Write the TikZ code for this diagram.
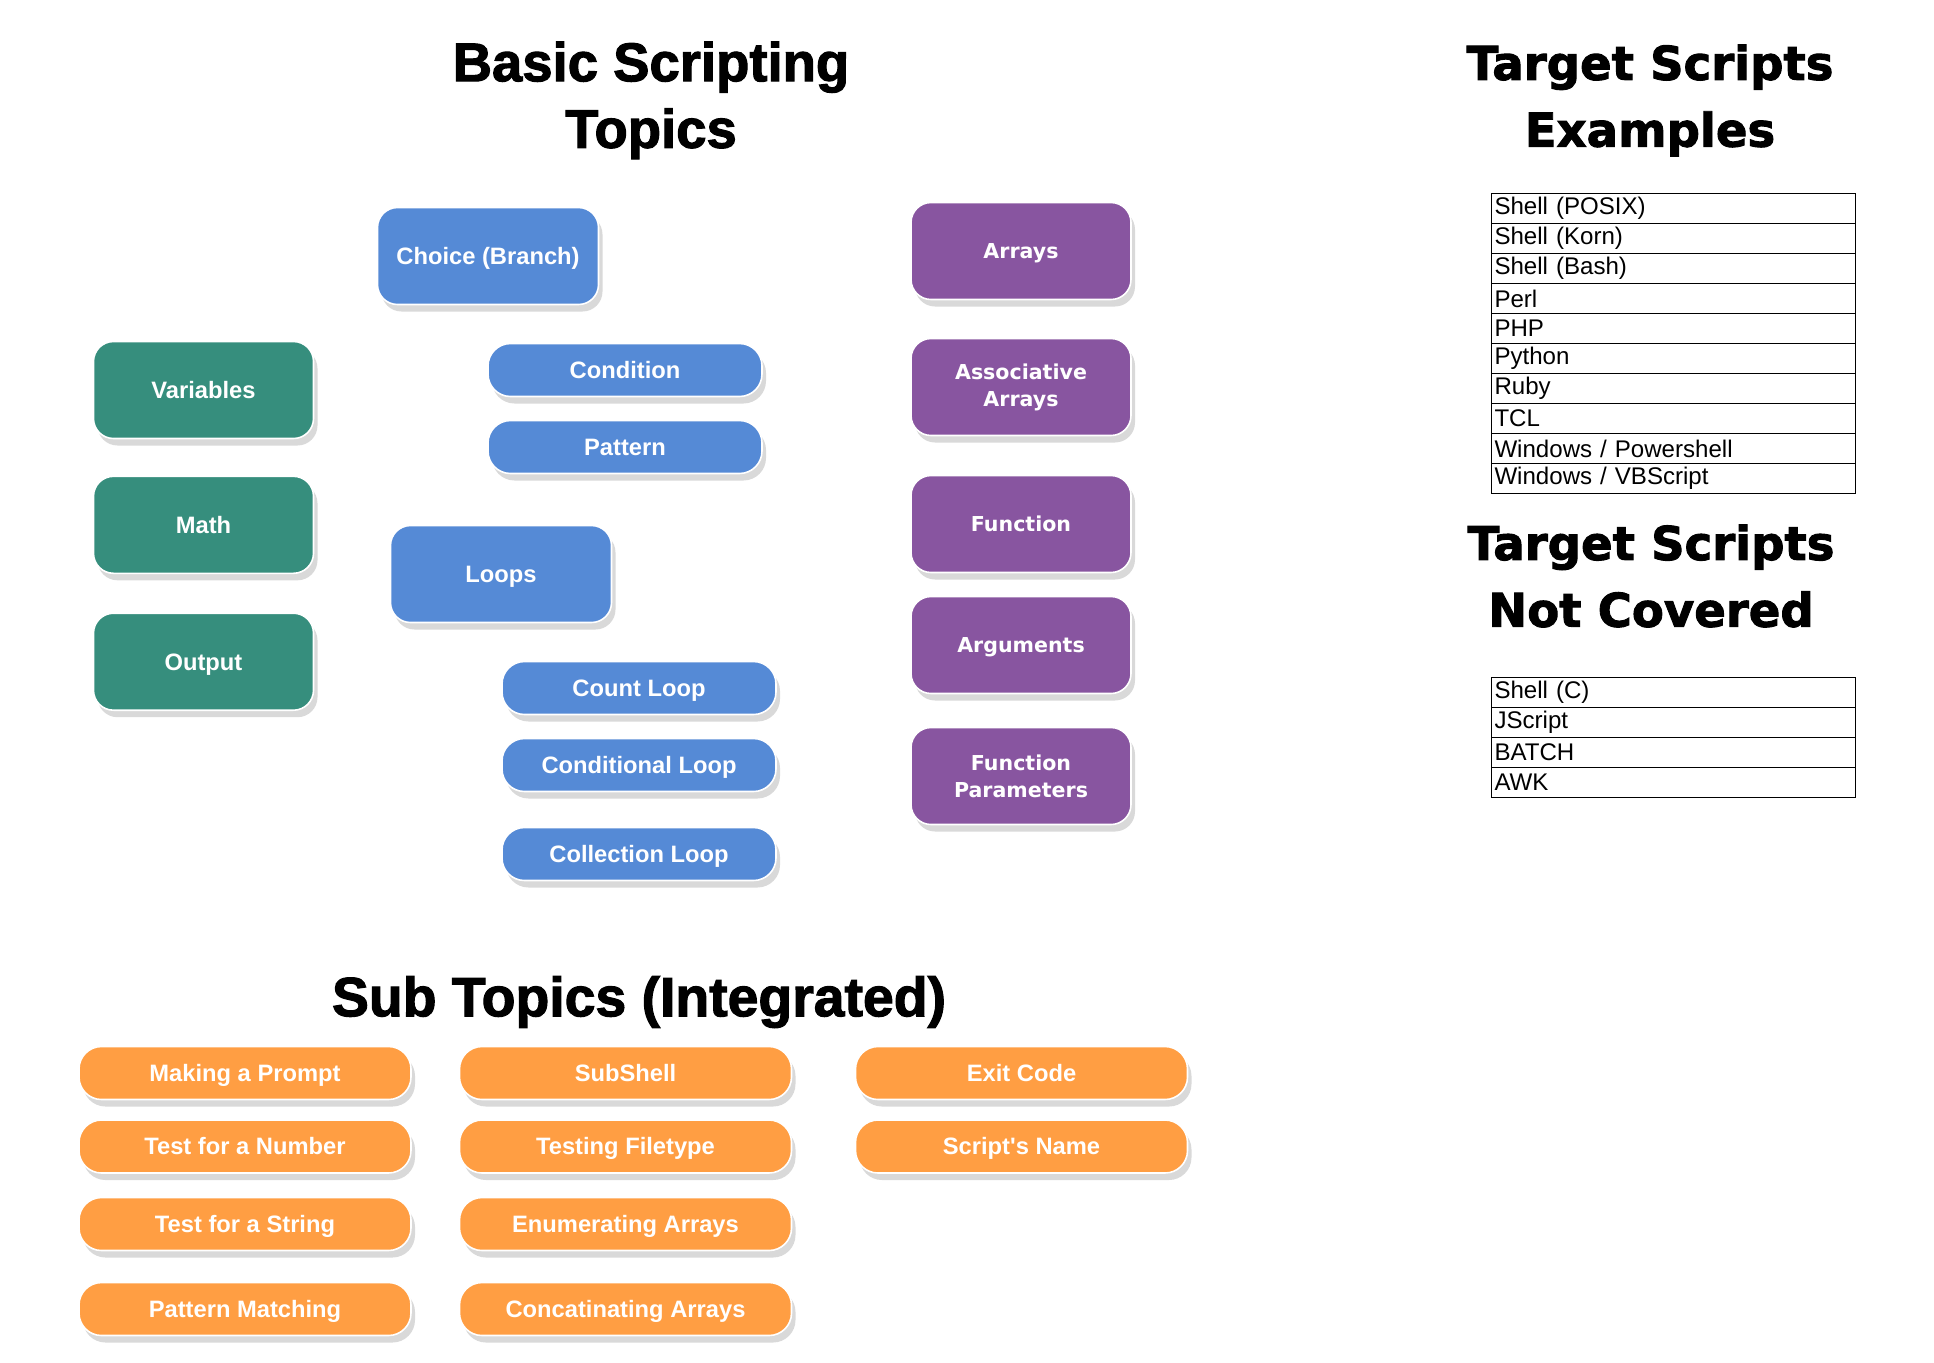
\documentclass[tikz,border=0pt]{standalone}
\usepackage{fontspec}
\setmainfont{Liberation Sans}
\newfontfamily\widefont{DejaVu Sans}
\newfontfamily\heavyfont[BoldFeatures={FakeBold=2}]{Liberation Sans}
\newfontfamily\wideheavy[BoldFeatures={FakeBold=2}]{DejaVu Sans}
\usetikzlibrary{shadows}
\definecolor{basicgreen}{RGB}{54,142,125}
\definecolor{flowblue}{RGB}{85,138,214}
\definecolor{datapurple}{RGB}{136,85,160}
\definecolor{suborange}{RGB}{255,158,67}
\begin{document}
\begin{tikzpicture}[scale=0.2]
\tikzstyle{every node}+=[inner sep=0pt]
\tikzstyle{oneline}=[text height=12pt, text depth=2.5pt]
\tikzstyle{box}=[draw=white, line width=0.9pt, text=white, align=center, drop shadow={shadow xshift=0.08cm, shadow yshift=-0.14cm, opacity=0.3}]
\tikzstyle{bigbox}=[box, rounded corners=0.4cm, minimum width=4.4cm, minimum height=1.94cm]
\tikzstyle{pill}=[box, rounded corners=0.45cm, minimum height=1.06cm]
\tikzstyle{boxtext}=[oneline, font=\fontsize{13.5}{16}\selectfont\bfseries]
\tikzstyle{greenbox}=[bigbox, boxtext, fill=basicgreen]
\tikzstyle{bluebig}=[bigbox, boxtext, fill=flowblue, minimum width=4.42cm]
\tikzstyle{bluepill}=[pill, boxtext, fill=flowblue, minimum width=5.48cm]
\tikzstyle{purplebase}=[bigbox, fill=datapurple, font=\widefont\fontsize{11.7}{15.4}\selectfont\bfseries]
\tikzstyle{purplebox}=[purplebase, text height=10.5pt, text depth=2pt]
\tikzstyle{orangepill}=[pill, boxtext, fill=suborange, minimum width=6.64cm]
\tikzstyle{title}=[align=center, font=\heavyfont\fontsize{31}{37.9}\selectfont\bfseries]
\tikzstyle{widetitle}=[align=center, font=\wideheavy\fontsize{26.5}{38}\selectfont\bfseries]
\tikzstyle{langrow}=[draw=black, line width=0.5pt, minimum height=0.6cm, text width=7.14cm, inner xsep=0.07cm, align=left, font=\fontsize{13.7}{16}\selectfont]
\useasboundingbox (0,0) rectangle (193.4,-136.2);
% titles
\draw (65.1,-10.04) node[title] (basic) {Basic Scripting\\Topics};
\draw (165.0,-10.04) node[widetitle] (examples) {Target Scripts\\Examples};
\draw (165.1,-57.6) node[widetitle] (notcovered) {Target Scripts\\Not Covered};
\draw (63.9,-100.2) node[title, font=\heavyfont\fontsize{31.5}{36}\selectfont\bfseries] (subtopics) {Sub Topics (Integrated)};
% basics
\draw (20.35,-39.0) node[greenbox] (vars) {Variables};
\draw (20.35,-52.48) node[greenbox] (math) {Math};
\draw (20.35,-66.17) node[greenbox] (output) {Output};
% choice and loops
\draw (48.8,-25.6) node[bluebig] (choice) {Choice (Branch)};
\draw (62.5,-37.0) node[bluepill] (cond) {Condition};
\draw (62.5,-44.7) node[bluepill] (pattern) {Pattern};
\draw (50.1,-57.4) node[bluebig] (loops) {Loops};
\draw (63.9,-68.8) node[bluepill] (countloop) {Count Loop};
\draw (63.9,-76.5) node[bluepill] (condloop) {Conditional Loop};
\draw (63.9,-85.4) node[bluepill] (collloop) {Collection Loop};
% arrays and functions
\draw (102.1,-25.1) node[purplebox] (arrays) {Arrays};
\draw (102.1,-38.7) node[purplebase] (assoc) {Associative\\Arrays};
\draw (102.1,-52.4) node[purplebox] (func) {Function};
\draw (102.1,-64.5) node[purplebox] (args) {Arguments};
\draw (102.1,-77.6) node[purplebase] (funcparams) {Function\\Parameters};
% sub topics
\draw (24.5,-107.3) node[orangepill] (prompt) {Making a Prompt};
\draw (24.5,-114.65) node[orangepill] (testnum) {Test for a Number};
\draw (24.5,-122.4) node[orangepill] (teststr) {Test for a String};
\draw (24.5,-130.9) node[orangepill] (patmatch) {Pattern Matching};
\draw (62.55,-107.3) node[orangepill] (subshell) {SubShell};
\draw (62.55,-114.65) node[orangepill] (filetype) {Testing Filetype};
\draw (62.55,-122.4) node[orangepill] (enumarr) {Enumerating Arrays};
\draw (62.55,-130.9) node[orangepill] (concatarr) {Concatinating Arrays};
\draw (102.15,-107.3) node[orangepill] (exitcode) {Exit Code};
\draw (102.15,-114.65) node[orangepill] (scriptname) {Script\textquotesingle s Name};
% target script tables
\foreach \lang [count=\i] in {Shell (POSIX), Shell (Korn), Shell (Bash), Perl, PHP, Python, Ruby, TCL, Windows / Powershell, Windows / VBScript}
  \draw (167.3,{-17.86-3*\i}) node[langrow] (ex\i) {\lang};
\foreach \lang [count=\i] in {Shell (C), JScript, BATCH, AWK}
  \draw (167.3,{-66.2-3*\i}) node[langrow] (nc\i) {\lang};
\end{tikzpicture}
\end{document}
